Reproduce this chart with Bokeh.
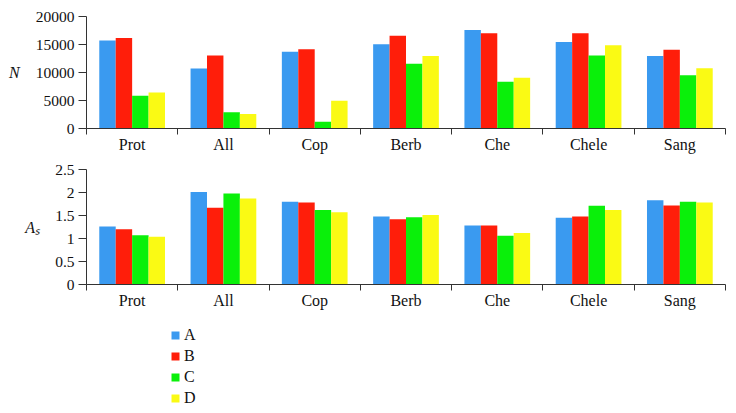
from bokeh.plotting import figure
from bokeh.models import (FixedTicker, CustomJSTickFormatter, Legend,
                          LegendItem, Range1d)
from bokeh.layouts import column
from bokeh.embed import file_html
from bokeh.resources import INLINE

categories = ["Prot", "All", "Cop", "Berb", "Che", "Chele", "Sang"]
series = ["A", "B", "C", "D"]
colors = ["#3A9AF0", "#FF1E0A", "#0AF00A", "#FAFA14"]

n_A = [15700, 10700, 13700, 15050, 17600, 15450, 12950]
n_B = [16150, 13050, 14150, 16550, 17000, 17000, 14050]
n_C = [5850, 2900, 1200, 11550, 8350, 13050, 9500]
n_D = [6450, 2600, 4950, 12950, 9050, 14850, 10750]

as_A = [1.26, 2.01, 1.80, 1.48, 1.28, 1.45, 1.83]
as_B = [1.20, 1.67, 1.78, 1.42, 1.28, 1.48, 1.72]
as_C = [1.07, 1.98, 1.62, 1.46, 1.06, 1.71, 1.80]
as_D = [1.04, 1.87, 1.57, 1.51, 1.12, 1.62, 1.78]

n_ticks = [0, 5000, 10000, 15000, 20000]
as_ticks = [0, 0.5, 1, 1.5, 2, 2.5]

FONT = "Liberation Serif"
AXIS_COLOR = "#333333"
TEXT_COLOR = "#111111"
BAR_W = 0.18


def bar_x(j):
    return [i + 0.5 + (j - 1.5) * BAR_W for i in range(len(categories))]


def make_chart(values, yticks, height, top_border, ylabel, ylabel_standoff):
    p = figure(x_range=Range1d(0, len(categories)),
               y_range=Range1d(0, yticks[-1]),
               width=730, height=height,
               min_border_left=86, min_border_right=5,
               min_border_top=top_border, min_border_bottom=30,
               output_backend="svg", toolbar_location=None,
               outline_line_color=None, background_fill_color="white",
               border_fill_color="white")
    p.grid.visible = False
    for j, vals in enumerate(values):
        p.vbar(x=bar_x(j), top=vals, bottom=0, width=BAR_W,
               fill_color=colors[j], line_color=None)
    xa = p.xaxis[0]
    xa.ticker = FixedTicker(ticks=[i + 0.5 for i in range(len(categories))],
                            minor_ticks=list(range(len(categories) + 1)))
    xa.formatter = CustomJSTickFormatter(args=dict(labels=categories),
                                         code="return labels[Math.floor(tick)]")
    xa.major_tick_out = 0
    xa.major_tick_in = 0
    xa.minor_tick_out = 6
    xa.minor_tick_in = 0
    xa.minor_tick_line_color = AXIS_COLOR
    xa.axis_line_color = AXIS_COLOR
    xa.major_label_standoff = 1
    xa.major_label_text_font = FONT
    xa.major_label_text_font_size = "16px"
    xa.major_label_text_color = TEXT_COLOR

    ya = p.yaxis[0]
    ya.ticker = FixedTicker(ticks=yticks, minor_ticks=[])
    ya.formatter = CustomJSTickFormatter(code="return tick.toString()")
    ya.major_tick_out = 8
    ya.major_tick_in = 0
    ya.major_tick_line_color = AXIS_COLOR
    ya.axis_line_color = AXIS_COLOR
    ya.major_label_standoff = 4
    ya.major_label_text_font = FONT
    ya.major_label_text_font_size = "15.5px"
    ya.major_label_text_color = TEXT_COLOR
    ya.axis_label = ylabel
    ya.axis_label_orientation = "horizontal"
    ya.axis_label_standoff = ylabel_standoff
    ya.axis_label_text_font = FONT
    ya.axis_label_text_font_size = "16px"
    ya.axis_label_text_font_style = "italic"
    ya.axis_label_text_color = TEXT_COLOR
    return p


p1 = make_chart([n_A, n_B, n_C, n_D], n_ticks, 158, 16, "N", 13)
p2 = make_chart([as_A, as_B, as_C, as_D], as_ticks, 156, 11, "Aₛ", 12)

p3 = figure(width=730, height=94, x_range=Range1d(0, 1), y_range=Range1d(0, 1),
            x_axis_location=None, y_axis_location=None,
            min_border=0, output_backend="svg", toolbar_location=None,
            outline_line_color=None)
p3.grid.visible = False
items = []
for j, (s, vals) in enumerate(zip(series, [as_A, as_B, as_C, as_D])):
    r = p3.vbar(x=bar_x(j), top=vals, width=BAR_W, fill_color=colors[j],
                line_color=None, visible=False)
    items.append(LegendItem(label=s, renderers=[r]))
legend = Legend(items=items, location=(84, 1), padding=0, margin=0,
                border_line_color=None, background_fill_alpha=0,
                glyph_width=10, glyph_height=10, label_standoff=4,
                label_height=17, spacing=3,
                label_text_font=FONT, label_text_font_size="16px",
                label_text_color=TEXT_COLOR)
p3.add_layout(legend)

layout = column(p1, p2, p3, spacing=0)
open("out.html", "w").write(file_html(layout, INLINE))
